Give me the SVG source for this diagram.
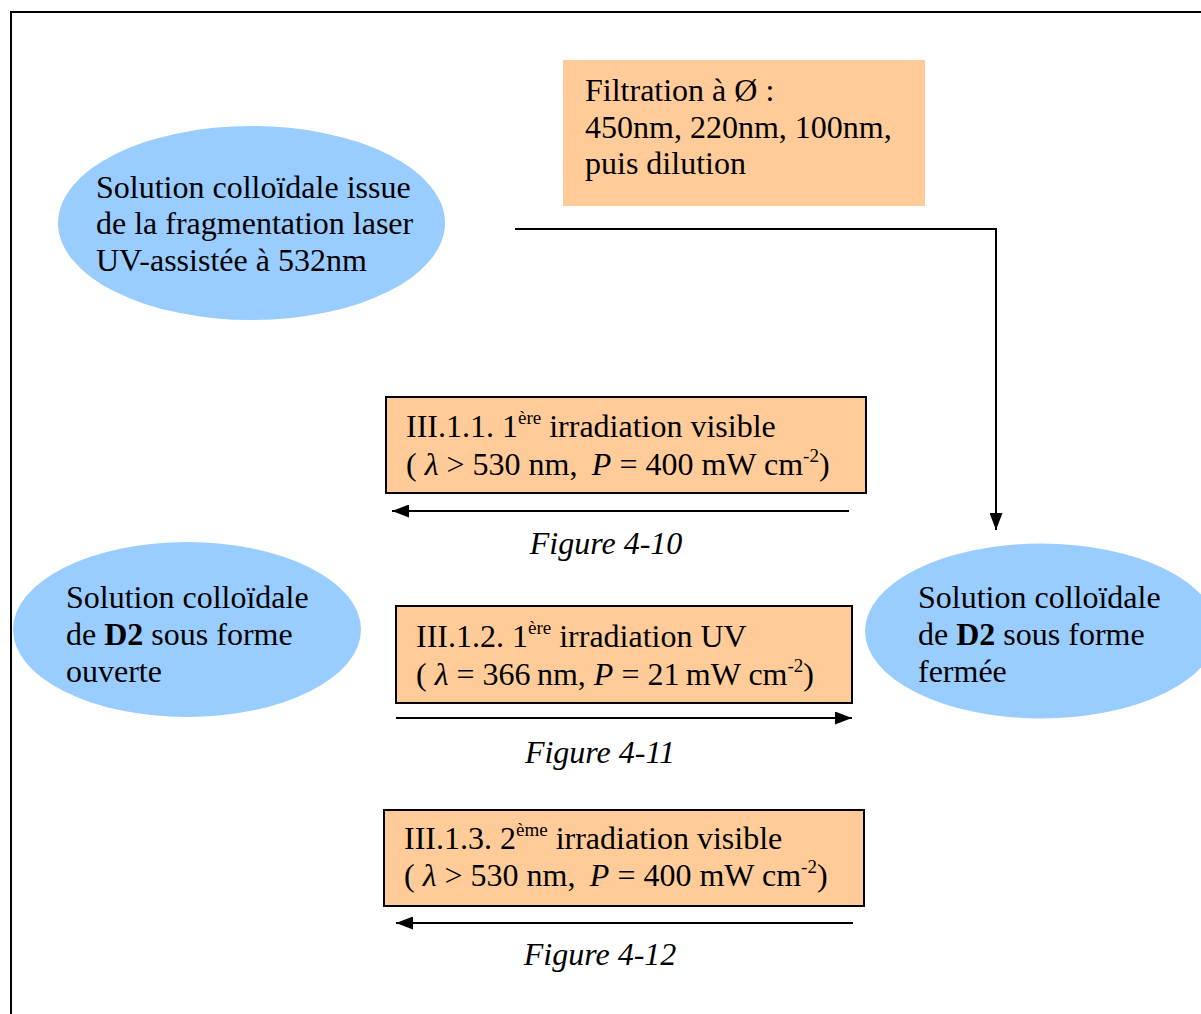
<svg xmlns="http://www.w3.org/2000/svg" width="1201" height="1014" viewBox="0 0 1201 1014">
  <style>
    text { font-family: "Liberation Serif", "Times New Roman", serif; font-size: 32px; fill: #000; }
    .node-ell { fill: #99CCFF; stroke: none; }
    .filter { fill: #FFCC99; stroke: none; }
    .step { fill: #FFCC99; stroke: #000; stroke-width: 2; }
    .wire { fill: none; stroke: #000; stroke-width: 2; }
    .cap { font-style: italic; text-anchor: middle; }
    .it { font-style: italic; }
    .sup { font-size: 19px; }
    .b { font-weight: bold; }
  </style>
  <defs>
    <marker id="arrow" viewBox="0 0 17 13" refX="17" refY="6.5" markerWidth="17" markerHeight="13" markerUnits="userSpaceOnUse" orient="auto">
      <path d="M0,0 L17,6.5 L0,13 Z" fill="#000"/>
    </marker>
  </defs>

  <rect width="1201" height="1014" fill="#fff"/>
  <!-- outer frame, open to the right and bottom -->
  <path d="M11,1014 V12 H1201" fill="none" stroke="#000" stroke-width="2"/>

  <g id="source">
    <ellipse class="node-ell" cx="251.5" cy="223" rx="193.5" ry="97"/>
    <text x="96" y="198">Solution colloïdale issue</text>
    <text x="96" y="234">de la fragmentation laser</text>
    <text x="96" y="271">UV-assistée à 532nm</text>
  </g>

  <g id="filtration">
    <rect class="filter" x="563" y="60" width="362" height="146"/>
    <text x="585" y="101">Filtration à Ø :</text>
    <text x="585" y="138">450nm, 220nm, 100nm,</text>
    <text x="585" y="174">puis dilution</text>
  </g>

  <g id="open-form">
    <ellipse class="node-ell" cx="187" cy="629.5" rx="174" ry="87.5"/>
    <text x="66" y="608">Solution colloïdale</text>
    <text x="66" y="645">de <tspan class="b">D2</tspan> sous forme</text>
    <text x="66" y="682">ouverte</text>
  </g>

  <g id="closed-form">
    <ellipse class="node-ell" cx="1041" cy="631" rx="176" ry="87.5"/>
    <text x="918" y="608">Solution colloïdale</text>
    <text x="918" y="645">de <tspan class="b">D2</tspan> sous forme</text>
    <text x="918" y="682">fermée</text>
  </g>

  <g id="step-1">
    <rect class="step" x="386" y="397" width="480" height="96"/>
    <text x="406" y="437">III.1.1. 1<tspan class="sup" dy="-13">ère</tspan><tspan dy="13"> irradiation visible</tspan></text>
    <text x="406" y="475">( <tspan class="it">λ</tspan> &gt; 530 nm,&#8201; <tspan class="it">P</tspan> = 400 mW cm<tspan class="sup" dy="-13">-2</tspan><tspan dy="13">)</tspan></text>
  </g>

  <g id="step-2">
    <rect class="step" x="396" y="606" width="456" height="97"/>
    <text x="416" y="647">III.1.2. 1<tspan class="sup" dy="-13">ère</tspan><tspan dy="13"> irradiation UV</tspan></text>
    <text x="416" y="685">( <tspan class="it">λ</tspan> = 366&#8201;nm, <tspan class="it">P</tspan> = 21&#8201;mW cm<tspan class="sup" dy="-13">-2</tspan><tspan dy="13">)</tspan></text>
  </g>

  <g id="step-3">
    <rect class="step" x="384" y="810" width="480" height="96"/>
    <text x="404" y="849">III.1.3. 2<tspan class="sup" dy="-13">ème</tspan><tspan dy="13"> irradiation visible</tspan></text>
    <text x="404" y="886">( <tspan class="it">λ</tspan> &gt; 530 nm,&#8201; <tspan class="it">P</tspan> = 400 mW cm<tspan class="sup" dy="-13">-2</tspan><tspan dy="13">)</tspan></text>
  </g>

  <g id="captions">
    <text class="cap" x="606" y="554">Figure 4-10</text>
    <text class="cap" x="600" y="763">Figure 4-11</text>
    <text class="cap" x="600" y="965">Figure 4-12</text>
  </g>

  <g id="connectors">
    <path class="wire" d="M515,229 H996 V530" marker-end="url(#arrow)"/>
    <path class="wire" d="M849,511 H392" marker-end="url(#arrow)"/>
    <path class="wire" d="M396,718 H852" marker-end="url(#arrow)"/>
    <path class="wire" d="M853,923 H396" marker-end="url(#arrow)"/>
  </g>
</svg>
